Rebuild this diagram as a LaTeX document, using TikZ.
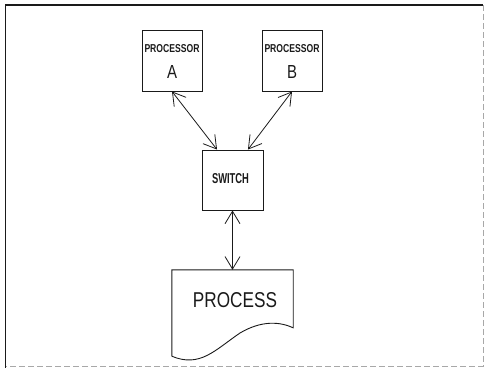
\documentclass[tikz,border=0pt]{standalone}
\usepackage{fontspec}
\setmainfont{Liberation Sans}
\usepackage{xcolor}
\usepackage{tikz}
\usetikzlibrary{calc,arrows.meta}
\definecolor{ink}{HTML}{1A1A1A}
\definecolor{faint}{HTML}{A8A8A8}
\tikzset{
  fig/.style={draw=ink, line width=0.9pt},
  box/.style={fig, minimum width=60pt, minimum height=61pt, inner sep=0pt},
  link/.style={draw=ink, line width=0.8pt, {Straight Barb[length=12.5pt,width=15pt]}-{Straight Barb[length=12.5pt,width=15pt]}},
  small/.style={text=ink, inner sep=0pt}
}

\begin{document}
\begin{tikzpicture}[x=1pt, y=1pt]
\useasboundingbox (0,0) rectangle (485,368);

% frame
\draw[ink, line width=1.2pt] (483,363)--(5.5,363)--(5.5,0);
\draw[faint, line width=0.7pt, dash pattern=on 6pt off 3pt] (483,363)--(483,2)--(5.5,2);

% processors
\node[box] (pa) at (172,307.5) {};
\node[small] at (172,319) {\resizebox{55pt}{8pt}{\bfseries PROCESSOR}};
\node[small] at (172,296) {\resizebox{10pt}{13pt}{A}};
\node[box] (pb) at (292,307.5) {};
\node[small] at (292,319) {\resizebox{55pt}{8pt}{\bfseries PROCESSOR}};
\node[small] at (292,296) {\resizebox{10pt}{13pt}{B}};

% switch
\node[box, minimum width=61pt, minimum height=60pt] (sw) at (232.5,188) {};
\node[small] at (230.5,189) {\resizebox{37pt}{10pt}{\bfseries SWITCH}};

% process (document shape)
\node[minimum width=121pt, minimum height=92pt, inner sep=0pt] (proc) at (232.5,52) {};
\draw[fig] (proc.south west) ++(0,6) |- (proc.north east) -- ++(0,-58)
  .. controls +(-13,6) and (262,48) .. (240,35)
  .. controls (215,18) and (200,0) .. ($(proc.south west)+(0,6)$);
\node[small] at (235,67.5) {\resizebox{84pt}{15pt}{PROCESS}};

% links
\draw[link] (pa.south) -- ($(sw.north west)!0.25!(sw.north east)$);
\draw[link] (pb.south) -- ($(sw.north west)!0.75!(sw.north east)$);
\draw[link] (sw.south) -- (proc.north);
\end{tikzpicture}
\end{document}
